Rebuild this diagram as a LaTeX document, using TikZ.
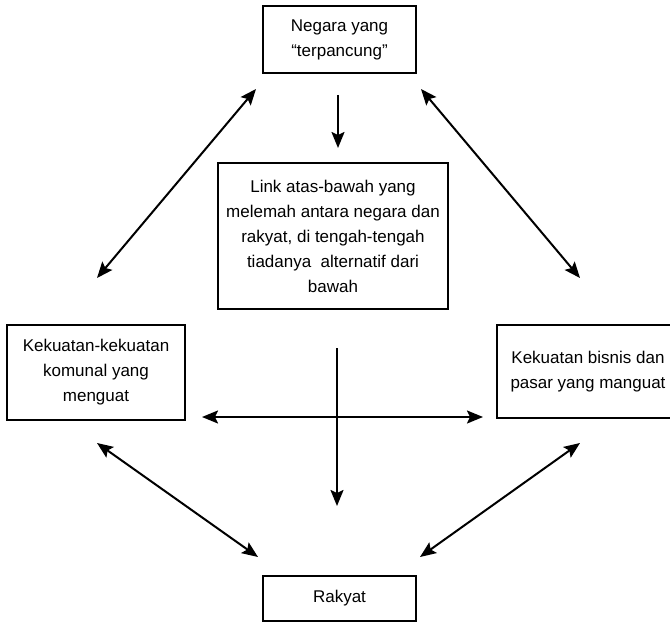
\documentclass[tikz,border=0pt]{standalone}
\usepackage{fontspec}
\setmainfont{Liberation Sans}
\usetikzlibrary{arrows.meta}

\begin{document}
\begin{tikzpicture}[x=1pt, y=-1pt, line width=2pt,
    every node/.style={font=\fontsize{17}{25}\selectfont, align=center},
    kotak/.style={draw, line width=2.4pt, inner sep=0pt},
    >={Stealth[length=16pt,width=13pt,inset=3pt]}]
  \useasboundingbox (0,0) rectangle (670,623);
  % kotak-kotak
  \node[kotak, minimum width=153, minimum height=67] (negara) at (339.5,39.5) {Negara yang\\“terpancung”};
  \node[kotak, minimum width=230, minimum height=146] (link) at (333,236)
    {Link atas-bawah yang\\melemah antara negara dan\\rakyat, di tengah-tengah\\tiadanya~ alternatif dari\\bawah};
  \node[kotak, minimum width=178, minimum height=95] (komunal) at (96,372.5) {Kekuatan-kekuatan\\komunal yang\\menguat};
  \node[kotak, minimum width=182, minimum height=93] (bisnis) at (588,371.5) {Kekuatan bisnis dan\\pasar yang manguat};
  \node[kotak, minimum width=153, minimum height=45] (rakyat) at (339.5,598.5) {Rakyat};
  % ujung panah
  \coordinate (a1) at (338,95);   \coordinate (a2) at (338,148);
  \coordinate (v1) at (337,348);  \coordinate (v2) at (337,506);
  \coordinate (h1) at (202,417);  \coordinate (h2) at (483,417);
  \coordinate (kiri1) at (256,89);   \coordinate (kiri2) at (97,278);
  \coordinate (kanan1) at (421,89);  \coordinate (kanan2) at (580,278);
  \coordinate (kiri3) at (97,443);   \coordinate (kiri4) at (258,557);
  \coordinate (kanan3) at (580,443); \coordinate (kanan4) at (420,557);
  \draw[->] (a1) -- (a2);
  \draw[->] (v1) -- (v2);
  \draw[<->] (h1) -- (h2);
  \foreach \p/\q in {kiri1/kiri2, kanan1/kanan2, kiri3/kiri4, kanan3/kanan4}
    \draw[<->] (\p) -- (\q);
\end{tikzpicture}
\end{document}
